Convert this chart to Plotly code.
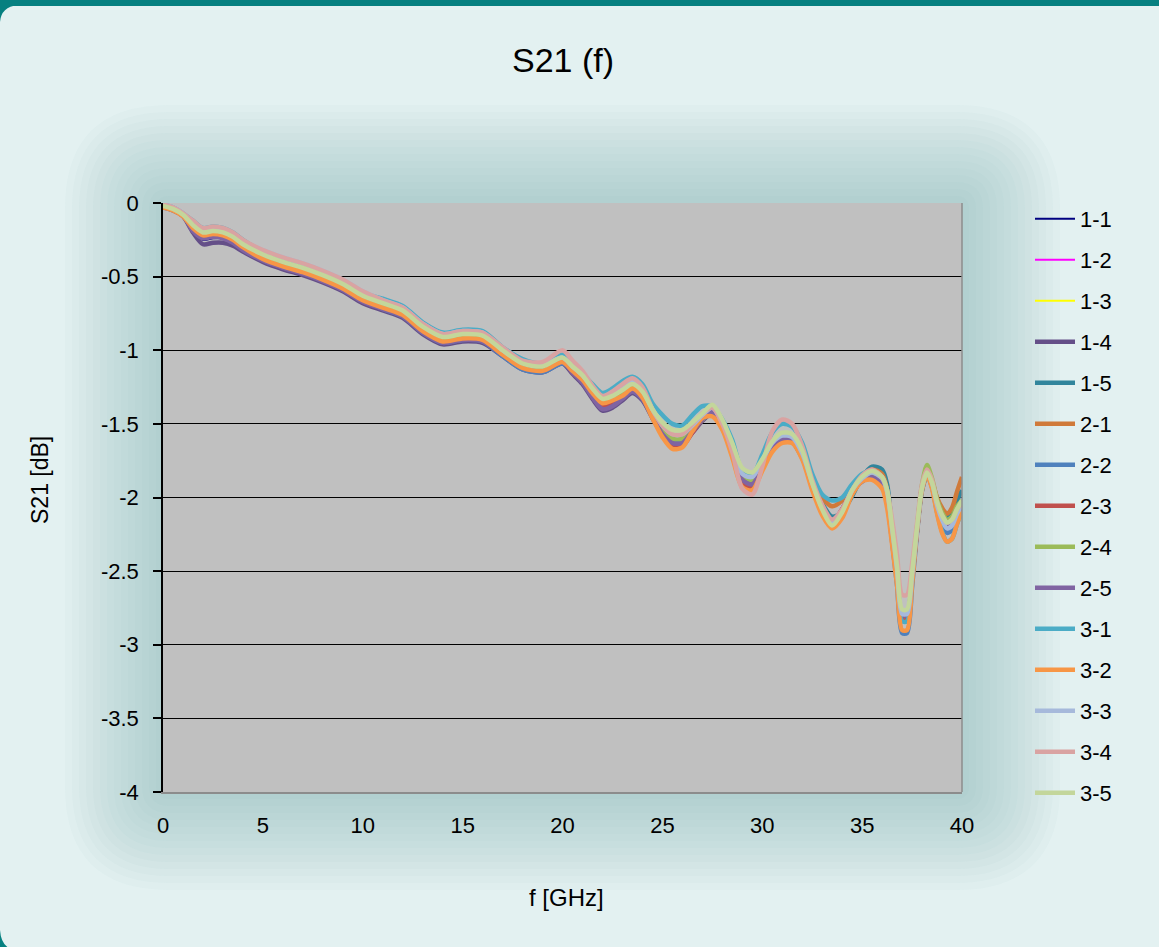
import plotly.graph_objects as go

# ---------------- data ----------------
freq = [0, 0.5, 1, 1.5, 2, 2.5, 3, 3.5, 4, 5, 6, 7, 8, 9, 10, 11, 12, 13, 14, 15, 16, 17, 18, 19, 20,
        20.5, 21, 21.5, 22, 22.5, 23, 23.5, 24, 24.5, 25, 25.5, 26, 26.5, 27, 27.5, 28, 28.5,
        29, 29.5, 30, 30.5, 31, 31.5, 32, 32.5, 33, 33.5, 34, 34.5, 35, 35.5,
        36, 36.25, 36.5, 36.75, 37, 37.25, 37.5, 37.75, 38, 38.25, 38.5, 38.75, 39, 39.25, 39.5, 39.75, 40]

s_1_1 = [-0.02, -0.04, -0.08, -0.18, -0.25, -0.24, -0.24, -0.27, -0.31,
         -0.37, -0.43, -0.47, -0.53, -0.60, -0.67, -0.71, -0.76, -0.88, -0.95, -0.94, -0.94,
         -1.03, -1.12, -1.14, -1.08,
         -1.14, -1.20, -1.29, -1.36, -1.34, -1.30, -1.26, -1.31, -1.43,
         -1.54, -1.59, -1.59, -1.54, -1.48, -1.41, -1.51, -1.67, -1.85, -1.88, -1.79,
         -1.65, -1.59, -1.60, -1.71, -1.90, -2.07, -2.17, -2.09, -1.95,
         -1.89, -1.85, -1.89, -1.98, -2.25, -2.52, -2.81, -2.81, -2.56, -2.25,
         -1.93, -1.83, -1.90, -2.06, -2.15, -2.20, -2.18, -2.11, -2.05]
s_1_2 = [-0.02, -0.04, -0.08, -0.17, -0.23, -0.22, -0.23, -0.26, -0.30,
         -0.37, -0.42, -0.46, -0.52, -0.58, -0.66, -0.72, -0.77, -0.89, -0.96, -0.93, -0.94,
         -1.03, -1.12, -1.14, -1.08,
         -1.13, -1.19, -1.28, -1.35, -1.33, -1.29, -1.25, -1.30, -1.43,
         -1.53, -1.58, -1.58, -1.53, -1.47, -1.41, -1.51, -1.67, -1.86, -1.89, -1.80,
         -1.65, -1.59, -1.60, -1.71, -1.90, -2.08, -2.19, -2.10, -1.95,
         -1.89, -1.85, -1.89, -1.98, -2.26, -2.53, -2.82, -2.82, -2.57, -2.26,
         -1.93, -1.83, -1.90, -2.05, -2.14, -2.19, -2.17, -2.10, -2.05]
s_1_3 = [-0.02, -0.04, -0.08, -0.17, -0.22, -0.21, -0.22, -0.25, -0.30,
         -0.38, -0.43, -0.47, -0.53, -0.59, -0.66, -0.72, -0.77, -0.88, -0.95, -0.93, -0.94,
         -1.02, -1.11, -1.13, -1.07,
         -1.14, -1.20, -1.29, -1.36, -1.34, -1.30, -1.26, -1.31, -1.43,
         -1.54, -1.59, -1.59, -1.54, -1.47, -1.41, -1.51, -1.67, -1.85, -1.88, -1.79,
         -1.64, -1.58, -1.59, -1.70, -1.90, -2.07, -2.18, -2.09, -1.95,
         -1.88, -1.84, -1.88, -1.97, -2.24, -2.51, -2.80, -2.80, -2.55, -2.24,
         -1.93, -1.83, -1.90, -2.06, -2.15, -2.20, -2.18, -2.11, -2.06]
s_1_4 = [-0.03, -0.05, -0.09, -0.20, -0.28, -0.27, -0.27, -0.29, -0.33,
         -0.40, -0.45, -0.49, -0.54, -0.60, -0.68, -0.73, -0.78, -0.89, -0.96, -0.94, -0.95,
         -1.04, -1.13, -1.15, -1.09,
         -1.16, -1.23, -1.33, -1.41, -1.39, -1.34, -1.29, -1.34, -1.46,
         -1.57, -1.63, -1.63, -1.56, -1.48, -1.43, -1.53, -1.69, -1.87, -1.90, -1.79,
         -1.67, -1.61, -1.62, -1.73, -1.90, -2.06, -2.16, -2.08, -1.95,
         -1.89, -1.86, -1.91, -2.00, -2.25, -2.53, -2.83, -2.83, -2.56, -2.22,
         -1.93, -1.83, -1.90, -2.06, -2.15, -2.20, -2.18, -2.11, -2.06]
s_1_5 = [-0.02, -0.04, -0.08, -0.17, -0.22, -0.21, -0.22, -0.25, -0.30,
         -0.37, -0.42, -0.46, -0.51, -0.57, -0.65, -0.70, -0.75, -0.86, -0.93, -0.91, -0.92,
         -1.01, -1.10, -1.12, -1.06,
         -1.13, -1.19, -1.28, -1.35, -1.33, -1.29, -1.25, -1.30, -1.42,
         -1.53, -1.59, -1.59, -1.52, -1.45, -1.40, -1.50, -1.67, -1.85, -1.89, -1.78,
         -1.67, -1.61, -1.62, -1.73, -1.88, -2.04, -2.13, -2.10, -1.99,
         -1.86, -1.79, -1.81, -1.91, -2.22, -2.51, -2.81, -2.81, -2.54, -2.21,
         -1.95, -1.85, -1.91, -2.01, -2.09, -2.13, -2.10, -2.02, -1.95]
s_2_1 = [-0.02, -0.04, -0.08, -0.17, -0.22, -0.21, -0.22, -0.25, -0.30,
         -0.38, -0.43, -0.47, -0.52, -0.58, -0.66, -0.70, -0.75, -0.86, -0.93, -0.91, -0.92,
         -1.02, -1.11, -1.13, -1.07,
         -1.13, -1.19, -1.28, -1.35, -1.33, -1.29, -1.25, -1.30, -1.43,
         -1.54, -1.62, -1.62, -1.54, -1.46, -1.41, -1.50, -1.65, -1.86, -1.91, -1.80,
         -1.66, -1.60, -1.60, -1.69, -1.87, -2.00, -2.06, -2.02, -1.92,
         -1.86, -1.81, -1.84, -1.95, -2.22, -2.51, -2.82, -2.82, -2.55, -2.22,
         -1.93, -1.83, -1.89, -2.00, -2.07, -2.11, -2.07, -1.96, -1.86]
s_2_2 = [-0.02, -0.04, -0.08, -0.17, -0.22, -0.21, -0.22, -0.25, -0.30,
         -0.37, -0.42, -0.46, -0.51, -0.57, -0.65, -0.72, -0.77, -0.88, -0.95, -0.93, -0.94,
         -1.04, -1.13, -1.15, -1.09,
         -1.14, -1.21, -1.31, -1.39, -1.37, -1.32, -1.28, -1.33, -1.45,
         -1.57, -1.63, -1.62, -1.55, -1.47, -1.42, -1.52, -1.69, -1.88, -1.91, -1.79,
         -1.67, -1.61, -1.62, -1.73, -1.92, -2.08, -2.18, -2.10, -1.97,
         -1.89, -1.86, -1.91, -2.03, -2.30, -2.60, -2.92, -2.92, -2.61, -2.24,
         -1.95, -1.85, -1.93, -2.08, -2.18, -2.24, -2.22, -2.13, -2.05]
s_2_3 = [-0.02, -0.04, -0.08, -0.18, -0.23, -0.22, -0.23, -0.26, -0.31,
         -0.38, -0.43, -0.47, -0.52, -0.58, -0.66, -0.71, -0.76, -0.87, -0.94, -0.92, -0.93,
         -1.02, -1.11, -1.13, -1.07,
         -1.15, -1.21, -1.30, -1.38, -1.35, -1.31, -1.27, -1.32, -1.44,
         -1.57, -1.66, -1.65, -1.56, -1.47, -1.43, -1.52, -1.69, -1.90, -1.93, -1.79,
         -1.67, -1.61, -1.61, -1.71, -1.90, -2.06, -2.16, -2.08, -1.95,
         -1.88, -1.85, -1.90, -2.00, -2.24, -2.52, -2.82, -2.82, -2.55, -2.22,
         -1.93, -1.83, -1.90, -2.05, -2.14, -2.19, -2.17, -2.10, -2.02]
s_2_4 = [-0.02, -0.04, -0.08, -0.16, -0.21, -0.20, -0.21, -0.24, -0.29,
         -0.37, -0.42, -0.46, -0.51, -0.57, -0.65, -0.70, -0.75, -0.86, -0.93, -0.91, -0.92,
         -1.02, -1.11, -1.13, -1.07,
         -1.13, -1.19, -1.28, -1.35, -1.33, -1.29, -1.25, -1.30, -1.42,
         -1.53, -1.60, -1.60, -1.54, -1.47, -1.43, -1.52, -1.67, -1.85, -1.88, -1.77,
         -1.65, -1.59, -1.60, -1.71, -1.90, -2.06, -2.17, -2.09, -1.95,
         -1.88, -1.84, -1.88, -1.97, -2.22, -2.50, -2.80, -2.80, -2.53, -2.20,
         -1.91, -1.78, -1.87, -2.01, -2.10, -2.15, -2.13, -2.06, -2.02]
s_2_5 = [-0.02, -0.04, -0.08, -0.19, -0.24, -0.23, -0.24, -0.27, -0.32,
         -0.39, -0.44, -0.48, -0.53, -0.59, -0.67, -0.72, -0.77, -0.88, -0.95, -0.93, -0.94,
         -1.03, -1.12, -1.14, -1.08,
         -1.15, -1.22, -1.32, -1.40, -1.38, -1.33, -1.28, -1.33, -1.45,
         -1.57, -1.63, -1.63, -1.55, -1.47, -1.42, -1.52, -1.68, -1.88, -1.91, -1.79,
         -1.66, -1.60, -1.61, -1.72, -1.90, -2.06, -2.17, -2.09, -1.95,
         -1.89, -1.86, -1.91, -2.00, -2.24, -2.51, -2.80, -2.80, -2.54, -2.22,
         -1.93, -1.83, -1.90, -2.05, -2.14, -2.19, -2.17, -2.10, -2.05]
s_3_1 = [-0.01, -0.03, -0.07, -0.12, -0.17, -0.16, -0.17, -0.20, -0.25,
         -0.33, -0.38, -0.42, -0.47, -0.53, -0.61, -0.65, -0.70, -0.81, -0.88, -0.86, -0.87,
         -0.98, -1.06, -1.09, -1.03,
         -1.11, -1.16, -1.23, -1.29, -1.26, -1.21, -1.18, -1.23, -1.36,
         -1.44, -1.50, -1.51, -1.44, -1.38, -1.38, -1.47, -1.61, -1.82, -1.85, -1.71,
         -1.56, -1.50, -1.52, -1.63, -1.84, -1.98, -2.02, -2.00, -1.91,
         -1.84, -1.82, -1.86, -1.97, -2.23, -2.52, -2.84, -2.84, -2.56, -2.22,
         -1.94, -1.84, -1.93, -2.10, -2.23, -2.30, -2.28, -2.18, -2.10]
s_3_2 = [-0.03, -0.05, -0.09, -0.17, -0.22, -0.21, -0.22, -0.25, -0.30,
         -0.38, -0.43, -0.47, -0.52, -0.58, -0.66, -0.71, -0.76, -0.87, -0.94, -0.92, -0.93,
         -1.03, -1.12, -1.14, -1.08,
         -1.14, -1.20, -1.29, -1.36, -1.34, -1.31, -1.26, -1.32, -1.46,
         -1.59, -1.67, -1.66, -1.55, -1.46, -1.45, -1.54, -1.73, -1.93, -1.95, -1.82,
         -1.69, -1.63, -1.63, -1.74, -1.95, -2.12, -2.21, -2.14, -1.98,
         -1.89, -1.88, -1.94, -2.07, -2.32, -2.60, -2.90, -2.90, -2.59, -2.23,
         -1.95, -1.85, -1.94, -2.11, -2.24, -2.30, -2.28, -2.18, -2.09]
s_3_3 = [-0.01, -0.03, -0.07, -0.13, -0.18, -0.17, -0.18, -0.21, -0.26,
         -0.32, -0.37, -0.41, -0.46, -0.52, -0.60, -0.66, -0.71, -0.82, -0.89, -0.87, -0.88,
         -1.00, -1.08, -1.10, -1.05,
         -1.11, -1.17, -1.25, -1.32, -1.30, -1.25, -1.21, -1.27, -1.40,
         -1.51, -1.57, -1.57, -1.51, -1.44, -1.39, -1.49, -1.66, -1.84, -1.86, -1.75,
         -1.63, -1.58, -1.59, -1.70, -1.90, -2.07, -2.17, -2.09, -1.95,
         -1.87, -1.83, -1.87, -1.96, -2.21, -2.49, -2.79, -2.79, -2.53, -2.21,
         -1.93, -1.83, -1.90, -2.05, -2.15, -2.21, -2.19, -2.11, -2.05]
s_3_4 = [-0.01, -0.03, -0.07, -0.12, -0.17, -0.16, -0.17, -0.20, -0.25,
         -0.32, -0.37, -0.41, -0.46, -0.52, -0.60, -0.66, -0.71, -0.82, -0.89, -0.87, -0.88,
         -0.98, -1.07, -1.08, -1.00,
         -1.07, -1.14, -1.24, -1.31, -1.28, -1.23, -1.19, -1.25, -1.40,
         -1.51, -1.57, -1.57, -1.50, -1.43, -1.39, -1.50, -1.69, -1.94, -1.98, -1.79,
         -1.55, -1.47, -1.50, -1.65, -1.88, -2.05, -2.15, -2.08, -1.95,
         -1.85, -1.81, -1.86, -1.95, -2.15, -2.39, -2.66, -2.66, -2.45, -2.17,
         -1.91, -1.81, -1.88, -2.03, -2.12, -2.17, -2.15, -2.08, -2.04]
s_3_5 = [-0.02, -0.04, -0.08, -0.15, -0.20, -0.19, -0.20, -0.23, -0.28,
         -0.35, -0.40, -0.44, -0.49, -0.55, -0.63, -0.68, -0.73, -0.84, -0.91, -0.89, -0.90,
         -1.00, -1.09, -1.11, -1.05,
         -1.11, -1.17, -1.26, -1.33, -1.31, -1.27, -1.23, -1.28, -1.40,
         -1.49, -1.54, -1.54, -1.49, -1.43, -1.37, -1.47, -1.63, -1.80, -1.83, -1.74,
         -1.62, -1.56, -1.57, -1.68, -1.90, -2.08, -2.19, -2.10, -1.95,
         -1.86, -1.82, -1.86, -1.95, -2.20, -2.47, -2.76, -2.76, -2.51, -2.20,
         -1.93, -1.83, -1.90, -2.03, -2.12, -2.17, -2.15, -2.08, -2.02]

series_names = ["1-1", "1-2", "1-3", "1-4", "1-5", "2-1", "2-2", "2-3", "2-4", "2-5",
                "3-1", "3-2", "3-3", "3-4", "3-5"]
series_values = [s_1_1, s_1_2, s_1_3, s_1_4, s_1_5, s_2_1, s_2_2, s_2_3, s_2_4, s_2_5,
                 s_3_1, s_3_2, s_3_3, s_3_4, s_3_5]

x_ticks = [0, 5, 10, 15, 20, 25, 30, 35, 40]
x_ticklabels = ["0", "5", "10", "15", "20", "25", "30", "35", "40"]
y_ticks = [0, -0.5, -1, -1.5, -2, -2.5, -3, -3.5, -4]
y_ticklabels = ["0", "-0.5", "-1", "-1.5", "-2", "-2.5", "-3", "-3.5", "-4"]

# ---------------- style ----------------
colors = ["#000080", "#FF00FF", "#FFFF00", "#644F88", "#31859C", "#D07A3A", "#4F81BD", "#C0504D",
          "#9BBB59", "#8064A2", "#4BACC6", "#F79646", "#A6B9DB", "#D9A3A2", "#C3D69B"]
widths = [2, 2, 2] + [4.5] * 12

FONT = "Liberation Sans, Arial, sans-serif"
W, H = 1159, 947
L, R, T, B = 163, 962, 203, 792  # plot area in pixels


def px_x(p):
    return (p - L) / (R - L)


def px_y(p):
    return (B - p) / (B - T)


def pt(x, y):
    return f"{px_x(x):.5f},{px_y(y):.5f}"


def rrect(x0, y0, x1, y1, r):
    return (f"M{pt(x0 + r, y0)} L{pt(x1 - r, y0)} Q{pt(x1, y0)} {pt(x1, y0 + r)} "
            f"L{pt(x1, y1 - r)} Q{pt(x1, y1)} {pt(x1 - r, y1)} L{pt(x0 + r, y1)} "
            f"Q{pt(x0, y1)} {pt(x0, y1 - r)} L{pt(x0, y0 + r)} Q{pt(x0, y0)} {pt(x0 + r, y0)} Z")


def inner_rect():
    return f" M{pt(L, T)} L{pt(R, T)} L{pt(R, B)} L{pt(L, B)} Z"


fig = go.Figure()
for name, vals, col, w in zip(series_names, series_values, colors, widths):
    fig.add_trace(go.Scatter(x=freq, y=vals, name=name, mode="lines", legendgroup=name,
                             line=dict(color=col, width=w, shape="spline", smoothing=0.8),
                             hoverinfo="skip"))

shapes = []
# soft glow around the plot area (rings, the plot area itself is left untouched)
for k in range(1, 15):
    e = 7 * k
    shapes.append(dict(type="path", xref="paper", yref="paper", layer="below",
                       path=rrect(L - e, T - e, R + e, B + e, e + 6) + inner_rect(),
                       fillrule="evenodd", fillcolor="#7DA3A8", opacity=0.035, line=dict(width=0)))
# teal frame at the top, rounded corners
shapes.append(dict(type="rect", xref="paper", yref="paper", layer="below",
                   x0=px_x(0), x1=px_x(W), y0=px_y(6), y1=px_y(-2),
                   fillcolor="#068080", line=dict(width=0)))
shapes.append(dict(type="path", xref="paper", yref="paper", layer="below",
                   path=f"M{pt(0, 5)} L{pt(0, 22)} Q{pt(1, 7)} {pt(18, 5)} Z",
                   fillcolor="#068080", line=dict(width=0)))
shapes.append(dict(type="path", xref="paper", yref="paper", layer="below",
                   path=f"M{pt(0, 930)} Q{pt(1, 944)} {pt(9, 948)} L{pt(0, 948)} Z",
                   fillcolor="#068080", line=dict(width=0)))
# right border of plot area
shapes.append(dict(type="line", xref="paper", yref="paper", layer="above",
                   x0=1, x1=1, y0=0, y1=1, line=dict(color="#8C8C8C", width=1.5)))

fig.update_layout(
    width=W, height=H, autosize=False,
    margin=dict(l=L, r=W - R, t=T, b=H - B),
    paper_bgcolor="#E3F1F1", plot_bgcolor="#C0C0C0",
    font=dict(family=FONT, color="black", size=22),
    title=dict(text="S21 (f)", x=563 / W, y=1 - 60 / H, xref="container", yref="container",
               xanchor="center", yanchor="middle", font=dict(size=34, color="black", family=FONT)),
    xaxis=dict(range=[0, 40], tickvals=x_ticks, ticktext=x_ticklabels, showgrid=False, zeroline=False,
               showline=True, linecolor="#8C8C8C", linewidth=1.5, ticks="", ticklabelstandoff=13,
               tickfont=dict(size=22, color="black")),
    xaxis2=dict(range=[0, 40], overlaying="x", side="top", anchor="y", tickvals=x_ticks,
                ticks="inside", ticklen=8, tickwidth=1.5, tickcolor="black", showticklabels=False,
                showline=True, linecolor="black", linewidth=1.5, showgrid=False, zeroline=False),
    yaxis=dict(range=[-4, 0], tickvals=y_ticks, ticktext=y_ticklabels, ticks="outside", ticklen=8,
               tickwidth=1.5, tickcolor="black", showline=True, linecolor="black", linewidth=1.5,
               showgrid=True, gridcolor="black", gridwidth=1, zeroline=False, ticklabelstandoff=10,
               tickfont=dict(size=22, color="black")),
    legend=dict(xref="container", yref="container", x=1030 / W, y=1 - 198 / H, xanchor="left",
                yanchor="top", bgcolor="rgba(0,0,0,0)", traceorder="grouped", tracegroupgap=9.4,
                itemwidth=40, maxheight=900, font=dict(size=22, color="black", family=FONT)),
    shapes=shapes,
    annotations=[
        dict(text="S21 [dB]", x=px_x(40), y=px_y(480), xref="paper", yref="paper", textangle=-90,
             showarrow=False, xanchor="center", yanchor="middle", font=dict(size=23, color="black")),
        dict(text="f [GHz]", x=px_x(566), y=px_y(897), xref="paper", yref="paper",
             showarrow=False, xanchor="center", yanchor="middle", font=dict(size=24, color="black")),
    ],
)

fig.write_html("out.html")
